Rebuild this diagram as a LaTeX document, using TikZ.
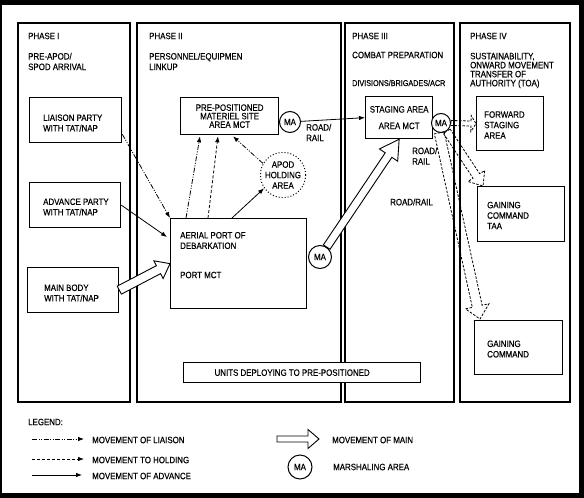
\documentclass[tikz,border=0pt]{standalone}
\usepackage{fontspec}
\setmainfont{Liberation Sans}[FakeStretch=0.86,FakeBold=0.4]
\usetikzlibrary{arrows.meta,calc}
\newcommand{\dgfont}{\fontsize{9.2}{10.5}\selectfont}
\newcommand{\fatarrow}[6][]{%
  \coordinate (fatA) at (#2);
  \coordinate (fatB) at (#3);
  \coordinate (fatH) at ($(fatB)!#6!(fatA)$);
  \draw[#1] ($(fatA)!#4!90:(fatB)$) -- ($(fatH)!#4!90:(fatB)$) -- ($(fatH)!#5!90:(fatB)$) -- (fatB)
    -- ($(fatH)!#5!-90:(fatB)$) -- ($(fatH)!#4!-90:(fatB)$) -- ($(fatA)!#4!-90:(fatB)$) -- cycle;}
\begin{document}
\begin{tikzpicture}[x=1pt,y=-1pt,
  >={Latex[length=6pt,width=4.5pt]},
  every node/.style={font=\dgfont,inner sep=0pt},
  phase/.style={line width=1.3pt},
  box/.style={draw,line width=1.3pt,anchor=north west},
  txt/.style={anchor=west,align=left},
  ma/.style={circle,draw,line width=1pt,fill=white},
  liaison/.style={->,line width=0.8pt,dash pattern=on 5pt off 1.5pt on 1pt off 1.5pt on 1pt off 1.5pt},
  holding/.style={->,line width=0.8pt,dash pattern=on 3pt off 2pt},
  advance/.style={->,line width=0.8pt},
  main/.style={line width=0.9pt,fill=white},
  mainfaint/.style={line width=0.8pt,dash pattern=on 2.5pt off 1.5pt}]
  \useasboundingbox (0,0) rectangle (584,498);
  \fill[black] (0,0) rectangle (584,498);
  \fill[white] (2,5) rectangle (579,493);
  \foreach \a/\b in {18/130,137/341,345/454,460/570}
    \draw[phase] (\a,23) rectangle (\b,402);

  \node[txt] (P1a) at (28,36) {PHASE I};
  \node[txt] (P1b) at (28,61.5) {PRE-APOD/\\SPOD ARRIVAL};
  \node[txt] (P2a) at (149,36) {PHASE II};
  \node[txt] (P2b) at (149,61.5) {PERSONNEL/EQUIPMEN\\LINKUP};
  \node[txt] (P3a) at (352,36) {PHASE III};
  \node[txt] (P3b) at (352,55) {COMBAT PREPARATION};
  \node[txt,font=\fontsize{8.4}{10}\selectfont] (P3c) at (352,83) {DIVISIONS/BRIGADES/ACR};
  \node[txt] (P4a) at (470,36) {PHASE IV};
  \node[txt,font=\fontsize{9.2}{9}\selectfont] (P4b) at (470,70.5) {SUSTAINABILITY,\\ONWARD MOVEMENT\\TRANSFER OF\\AUTHORITY (TOA)};

  \node[box,minimum width=92,minimum height=45] (LP) at (29,97) {};
  \node[txt] (LPt) at (43,123) {LIAISON PARTY\\WITH TAT/NAP};
  \node[box,minimum width=91,minimum height=45] (AD) at (29,182) {};
  \node[txt] (ADt) at (43,207) {ADVANCE PARTY\\WITH TAT/NAP};
  \node[box,minimum width=91,minimum height=45] (MB) at (27,267) {};
  \node[txt] (MBt) at (44,293) {MAIN BODY\\WITH TAT/NAP};

  \node[box,minimum width=98,minimum height=37,align=center,font=\fontsize{9.2}{8.5}\selectfont] (PP) at (180,97) {PRE-POSITIONED\\MATERIEL SITE\\AREA MCT};
  \node[ma,minimum size=21] (MA1) at (290,122) {MA};
  \node[circle,draw,line width=1pt,dash pattern=on 1pt off 2pt,minimum size=45,align=center] (HA) at (283,175) {APOD\\HOLDING\\AREA};
  \node[box,minimum width=136,minimum height=90] (AP) at (170,218) {};
  \node[txt] (APt) at (180,240.5) {AERIAL PORT OF\\DEBARKATION};
  \node[txt] (APm) at (180,275) {PORT MCT};
  \node[ma,minimum size=23] (MA2) at (320,257) {MA};

  \node[box,minimum width=67,minimum height=42,align=center] (ST) at (365,96) {STAGING AREA\\[6pt]AREA MCT};
  \node[ma,minimum size=19] (MA3) at (441,123) {MA};
  \node[box,minimum width=67,minimum height=54] (FS) at (476,96) {};
  \node[txt] (FSt) at (484,125) {FORWARD\\STAGING\\AREA};
  \node[box,minimum width=87,minimum height=55] (GT) at (477,186) {};
  \node[txt] (GTt) at (487,215.5) {GAINING\\COMMAND\\TAA};
  \node[box,minimum width=88,minimum height=54] (GC) at (474,320) {};
  \node[txt] (GCt) at (487,349) {GAINING\\COMMAND};

  \node[txt] (R1) at (306,132.5) {ROAD/\\RAIL};
  \node[txt] (R2) at (412,156) {ROAD/\\RAIL};
  \node[txt] (R3) at (390,202) {ROAD/RAIL};
  \node[box,minimum width=237,minimum height=20,fill=white] (UD) at (183,362) {\hspace*{-20pt}UNITS DEPLOYING TO PRE-POSITIONED};

  \draw[liaison] ($(LP.south east)+(0,-9)$) -- (AP.north west);
  \draw[advance] (AD.east) -- ($(AP.north west)+(-3,19)$);
  \fatarrow[main]{MB.east}{AP.west}{4.5pt}{10pt}{13pt}
  \draw[liaison] ($(AP.north west)+(16,0)$) -- ($(PP.south west)+(20,1)$);
  \draw[holding] ($(AP.north west)+(38,0)$) -- ($(PP.south west)+(38,1)$);
  \draw[liaison] (HA.150) -- ($(PP.south west)+(53,1)$);
  \draw[advance] ($(AP.north west)+(62,0)$) -- (HA.215);
  \draw[advance] (MA1) -- (ST.west);
  \fatarrow[main]{MA2.56}{ST.south}{4pt}{11pt}{19pt}
  \fatarrow[mainfaint]{MA3.east}{FS.west}{2.5pt}{8pt}{5pt}
  \fatarrow[mainfaint]{MA3.-55}{$(GT.north west)+(6,0)$}{4pt}{10pt}{12pt}
  \fatarrow[mainfaint]{MA3.-100}{$(GC.north west)+(6,-1)$}{5pt}{12pt}{13pt}

  \node[txt] (LG) at (28,422) {LEGEND:};
  \coordinate (L1a) at (32,439);
  \coordinate (L1b) at (84,439);
  \draw[liaison] (L1a) -- (L1b);
  \node[txt] (L1) at (92,440) {MOVEMENT OF LIAISON};
  \coordinate (L2a) at (32,459);
  \coordinate (L2b) at (84,459);
  \draw[holding] (L2a) -- (L2b);
  \node[txt] (L2) at (92,460) {MOVEMENT TO HOLDING};
  \coordinate (L3a) at (32,475);
  \coordinate (L3b) at (82,475);
  \draw[advance] (L3a) -- (L3b);
  \node[txt] (L3) at (92,476) {MOVEMENT OF ADVANCE};
  \coordinate (L4a) at (277,439);
  \coordinate (L4b) at (319,439);
  \fatarrow[main]{L4a}{L4b}{3pt}{9.5pt}{11pt}
  \node[txt] (L4) at (332,440) {MOVEMENT OF MAIN};
  \node[ma,minimum size=24] (L5c) at (300,467) {MA};
  \node[txt] (L5) at (333,467) {MARSHALING AREA};
\end{tikzpicture}
\end{document}
